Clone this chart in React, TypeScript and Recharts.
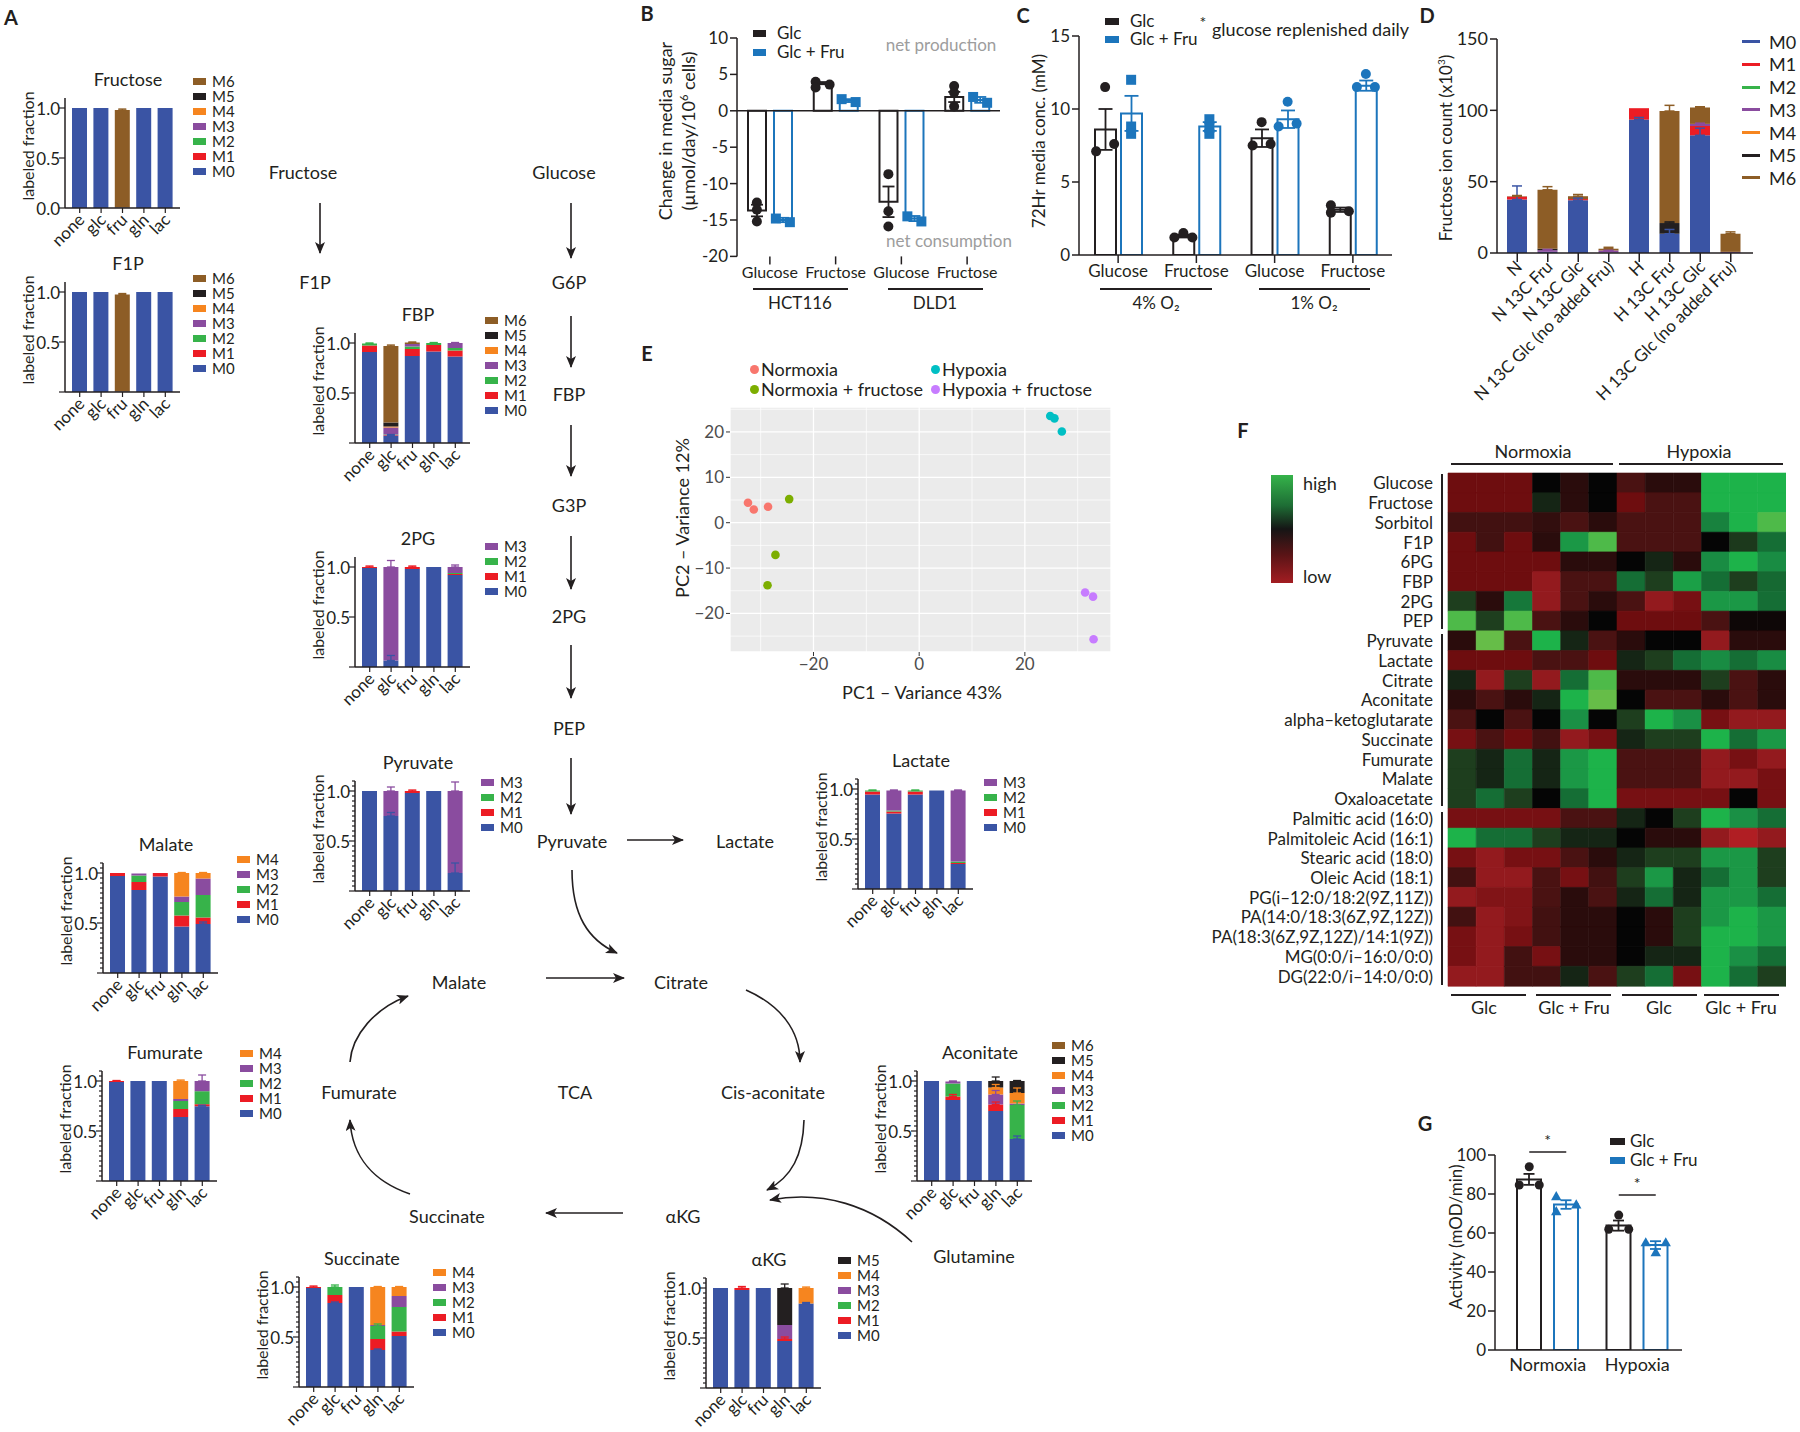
import React from 'react';
import {
  BarChart, Bar, XAxis, YAxis, ErrorBar, ComposedChart, Scatter, ScatterChart,
  CartesianGrid, ReferenceLine, Cell,
} from 'recharts';

const FONT = 'Lato, "Open Sans", "DejaVu Sans", sans-serif';
const INK = '#231f20';
const BLUE = '#1c75bc';
const GRAY_TXT = '#9d9d9d';

const ISO_COLORS: Record<string, string> = {
  M0: '#3a54a4', M1: '#ec1c24', M2: '#37b34a', M3: '#8a4c9f', M4: '#f6851f', M5: '#231f20', M6: '#8d5d26',
};
const ISO_KEYS = ['M0', 'M1', 'M2', 'M3', 'M4', 'M5', 'M6'];

// ---------------- Panel A data ----------------
const SAMPLES = ['none', 'glc', 'fru', 'gln', 'lac'];

const FRU_FRAC = { M0: [1, 1, 0.005, 1, 1], M6: [0, 0, 0.975, 0, 0] };
const FRU_ERR = { M6: [0, 0, 0.01, 0, 0] };
const F1P_FRAC = { M0: [1, 1, 0.005, 1, 1], M6: [0, 0, 0.97, 0, 0] };
const F1P_ERR = { M6: [0, 0, 0.01, 0, 0] };
const FBP_FRAC = {
  M0: [0.91, 0.075, 0.87, 0.915, 0.865],
  M1: [0.065, 0.005, 0.07, 0.065, 0.06],
  M2: [0.02, 0.005, 0.025, 0.02, 0.025],
  M3: [0, 0.07, 0.025, 0, 0.05],
  M4: [0, 0.01, 0, 0, 0],
  M5: [0, 0.04, 0, 0, 0],
  M6: [0, 0.765, 0.015, 0, 0],
};
const FBP_ERR = { M6: [0, 0.01, 0.005, 0, 0], M2: [0.005, 0, 0, 0.005, 0], M3: [0, 0, 0, 0, 0.005], M0: [0, 0.01, 0, 0, 0] };
const PG2_FRAC = { M0: [0.99, 0.065, 0.98, 1.0, 0.92], M1: [0.01, 0, 0.02, 0, 0.01], M2: [0, 0, 0, 0, 0.01], M3: [0, 0.935, 0, 0, 0.06] };
const PG2_ERR = { M3: [0, 0.065, 0, 0, 0.02], M0: [0, 0.05, 0, 0, 0], M1: [0.01, 0, 0.01, 0, 0] };
const PYR_FRAC = { M0: [1, 0.75, 0.98, 1, 0.18], M1: [0, 0, 0.02, 0, 0], M3: [0, 0.25, 0, 0, 0.82] };
const PYR_ERR = { M3: [0, 0.04, 0, 0, 0.09], M0: [0, 0.035, 0, 0, 0.1], M1: [0, 0, 0.01, 0, 0] };
const LAC_FRAC = {
  M0: [0.945, 0.755, 0.945, 0.985, 0.25], M1: [0.03, 0.02, 0.03, 0, 0.01],
  M2: [0.01, 0.01, 0.01, 0, 0.015], M3: [0, 0.2, 0, 0, 0.71],
};
const LAC_ERR = { M3: [0, 0.005, 0, 0, 0.005], M2: [0.005, 0, 0.005, 0, 0] };
const MAL_FRAC = {
  M0: [0.97, 0.83, 0.965, 0.465, 0.49], M1: [0.03, 0.08, 0.035, 0.11, 0.065],
  M2: [0, 0.065, 0, 0.135, 0.225], M3: [0, 0.02, 0, 0.055, 0.165], M4: [0, 0, 0, 0.235, 0.055],
};
const MAL_ERR = { M0: [0, 0, 0, 0, 0.02], M4: [0, 0, 0, 0.005, 0.005] };
const FUM_FRAC = {
  M0: [0.99, 1, 1, 0.64, 0.748], M1: [0.01, 0, 0, 0.08, 0.02], M2: [0, 0, 0, 0.08, 0.13],
  M3: [0, 0, 0, 0.02, 0.102], M4: [0, 0, 0, 0.18, 0],
};
const FUM_ERR = { M4: [0, 0, 0, 0.01, 0], M3: [0, 0, 0, 0, 0.06], M1: [0.005, 0, 0, 0, 0], M0: [0, 0, 0, 0, 0.01] };
const ACO_FRAC = {
  M0: [1, 0.81, 1, 0.70, 0.42], M1: [0, 0.035, 0, 0.065, 0], M2: [0, 0.13, 0, 0, 0.34],
  M3: [0, 0.02, 0, 0.10, 0.015], M4: [0, 0, 0, 0.07, 0.105], M5: [0, 0, 0, 0.065, 0.12], M6: [0, 0, 0, 0, 0],
};
const ACO_ERR = {
  M5: [0, 0, 0, 0.04, 0.005], M4: [0, 0, 0, 0.03, 0.05], M3: [0, 0.005, 0, 0.04, 0],
  M2: [0, 0, 0, 0, 0.04], M1: [0, 0.02, 0, 0.025, 0], M0: [0, 0, 0, 0, 0.03],
};
const SUC_FRAC = {
  M0: [0.99, 0.84, 1, 0.37, 0.51], M1: [0.01, 0.08, 0, 0.11, 0.045], M2: [0, 0.08, 0, 0.13, 0.245],
  M3: [0, 0, 0, 0.01, 0.11], M4: [0, 0, 0, 0.38, 0.09],
};
const SUC_ERR = { M2: [0, 0.02, 0, 0.02, 0], M0: [0, 0.01, 0, 0.01, 0], M4: [0, 0, 0, 0.005, 0.005], M1: [0.01, 0, 0, 0, 0] };
const AKG_FRAC = {
  M0: [1, 0.98, 1, 0.47, 0.845], M1: [0, 0.02, 0, 0.02, 0], M3: [0, 0, 0, 0.14, 0],
  M4: [0, 0, 0, 0, 0.155], M5: [0, 0, 0, 0.37, 0],
};
const AKG_ERR = { M5: [0, 0, 0, 0.04, 0], M1: [0, 0.015, 0, 0.02, 0], M4: [0, 0, 0, 0, 0.01], M0: [0, 0, 0, 0, 0.01] };

const LEG7 = ['M6', 'M5', 'M4', 'M3', 'M2', 'M1', 'M0'];
const LEG6 = ['M5', 'M4', 'M3', 'M2', 'M1', 'M0'];
const LEG5 = ['M4', 'M3', 'M2', 'M1', 'M0'];
const LEG4 = ['M3', 'M2', 'M1', 'M0'];

// ---------------- Panel B data ----------------
const B_CATS = ['HCT116 Glucose', 'HCT116 Fructose', 'DLD1 Glucose', 'DLD1 Fructose'];
const B_TICKS = ['Glucose', 'Fructose', 'Glucose', 'Fructose'];
const B_GLC_MEAN = [-13.7, 3.8, -12.5, 1.9];
const B_GLC_SEM = [0.8, 0.15, 2.1, 0.7];
const B_GLCFRU_MEAN = [-15.0, 1.4, -14.8, 1.5];
const B_GLCFRU_SEM = [0.3, 0.2, 0.35, 0.4];
const B_GLC_PTS = [[-12.6, -13.6, -15.2], [4.0, 3.2, 3.6], [-8.7, -13.8, -15.9], [3.4, 2.5, 0.6]];
const B_GLCFRU_PTS = [[-14.8, -15.3], [1.6, 1.2], [-14.5, -15.2], [1.9, 1.1]];
const B_GLC_JIT = [[0, 0, 0], [-1, -1, 1], [0, 0, 0], [0, 0, 0]];
const B_GLCFRU_JIT = [[-1, 1], [-1, 1], [-1, 1], [-1, 1]];

// ---------------- Panel C data ----------------
const C_CATS = ['4% Glucose', '4% Fructose', '1% Glucose', '1% Fructose'];
const C_TICKS = ['Glucose', 'Fructose', 'Glucose', 'Fructose'];
const C_GLC_MEAN = [8.6, 1.3, 8.0, 3.1];
const C_GLC_SEM = [1.4, 0.1, 0.6, 0.15];
const C_GLCFRU_MEAN = [9.7, 8.8, 9.3, 11.6];
const C_GLCFRU_SEM = [1.2, 0.3, 0.6, 0.35];
const C_GLC_PTS = [[7.1, 11.5, 7.6], [1.2, 1.5, 1.2], [7.5, 9.1, 7.6], [3.4, 2.9, 3.0]];
const C_GLCFRU_PTS = [[12.0, 8.8, 8.3], [9.3, 8.7, 8.3], [8.8, 10.5, 9.0], [11.5, 12.4, 11.5]];
const C_GLC_JIT = [[-1, 0, 1], [-1, 0, 1], [-1, 0, 1], [-1, -1, 1]];
const C_GLCFRU_JIT = [[0, 0, 0], [0, 0, 0], [-1, 0, 1], [-1, 0, 1]];

// ---------------- Panel D data ----------------
const D_CATS = ['N', 'N 13C Fru', 'N 13C Glc', 'N 13C Glc (no added Fru)', 'H', 'H 13C Fru', 'H 13C Glc', 'H 13C Glc (no added Fru)'];
const D_M0 = [37.5, 0.8, 37, 0.3, 93.5, 13.5, 82.5, 0];
const D_M1 = [2, 0, 0.8, 0, 8, 0, 6.5, 0];
const D_M2 = [0, 0, 0, 0, 0, 0, 0, 0];
const D_M3 = [0, 1.2, 0, 1.5, 0, 0, 1.5, 0.8];
const D_M4 = [0, 0, 0, 0, 0, 0, 0, 0];
const D_M5 = [0, 1, 0, 0, 0, 7.5, 0, 0];
const D_M6 = [0.3, 41.3, 2, 1.2, 0, 78.5, 11.5, 12.7];
const D_M0_ERR = [9.5, 0, 1.5, 0, 1.5, 3, 5, 0];
const D_M3_ERR = [0, 0.5, 0, 0.3, 0, 0, 0.5, 0];
const D_M5_ERR = [0, 0, 0, 0, 0, 0.8, 0, 0];
const D_M6_ERR = [0.5, 2.2, 1.2, 1.0, 0.5, 4, 0.5, 1.3];

// ---------------- Panel E data ----------------
const PCA_NORMOXIA = [{ x: -32.4, y: 4.4 }, { x: -31.3, y: 2.9 }, { x: -28.6, y: 3.5 }];
const PCA_NORMOXIA_FRU = [{ x: -24.6, y: 5.2 }, { x: -27.2, y: -7.1 }, { x: -28.7, y: -13.8 }];
const PCA_HYPOXIA = [{ x: 24.8, y: 23.5 }, { x: 25.6, y: 23.0 }, { x: 27.0, y: 20.1 }];
const PCA_HYPOXIA_FRU = [{ x: 31.4, y: -15.4 }, { x: 32.9, y: -16.3 }, { x: 33.0, y: -25.7 }];

// ---------------- Panel F data ----------------
const HEAT_GLYCO_LABELS = ['Glucose', 'Fructose', 'Sorbitol', 'F1P', '6PG', 'FBP', '2PG', 'PEP'];
const HEAT_GLYCO = [
  [-0.65, -0.65, -0.65, 0, -0.2, 0, -0.4, -0.2, -0.2, 0.85, 0.85, 0.85],
  [-0.65, -0.65, -0.65, 0.12, -0.2, 0, -0.65, -0.4, -0.4, 0.85, 0.85, 0.85],
  [-0.35, -0.35, -0.35, -0.25, -0.4, -0.2, -0.4, -0.4, -0.4, 0.65, 0.85, 0.95],
  [-0.65, -0.35, -0.65, -0.2, 0.75, 0.95, -0.4, -0.4, -0.4, 0, 0.25, 0.55],
  [-0.65, -0.65, -0.65, -0.65, -0.2, -0.2, 0, 0.12, -0.2, 0.7, 0.85, 0.7],
  [-0.65, -0.65, -0.65, -0.85, -0.4, -0.4, 0.55, 0.28, 0.78, 0.55, 0.28, 0.52],
  [0.28, -0.2, 0.6, -0.85, -0.4, -0.2, -0.4, -0.85, -0.7, 0.75, 0.75, 0.55],
  [0.95, 0.28, 0.95, -0.4, -0.2, 0, -0.65, -0.65, -0.65, -0.4, -0.05, -0.05],
];
const HEAT_TCA_LABELS = ['Pyruvate', 'Lactate', 'Citrate', 'Aconitate', 'alpha\u2013ketoglutarate', 'Succinate', 'Fumurate', 'Malate', 'Oxaloacetate'];
const HEAT_TCA = [
  [-0.2, 1.0, -0.4, 0.85, 0.12, -0.4, -0.2, 0, 0, -0.85, -0.2, -0.2],
  [-0.65, -0.65, -0.65, -0.4, -0.4, -0.65, 0.12, 0.28, 0.55, 0.7, 0.55, 0.7],
  [0.12, -0.85, 0.28, -0.85, 0.55, 0.95, -0.2, -0.2, -0.2, 0.28, -0.4, -0.2],
  [-0.2, -0.4, -0.2, 0.12, 0.85, 1.0, 0, -0.4, -0.4, -0.2, -0.4, -0.2],
  [-0.4, 0, -0.4, 0, 0.72, 0, 0.28, 0.85, 0.72, -0.7, -0.85, -0.85],
  [-0.7, -0.4, -0.65, -0.35, -0.85, -0.7, 0.12, 0.28, 0.28, 0.85, 0.55, 0.75],
  [0.28, 0.12, 0.55, 0.12, 0.75, 0.85, -0.4, -0.4, -0.4, -0.85, -0.7, -0.85],
  [0.28, 0.12, 0.55, 0.12, 0.75, 0.85, -0.4, -0.4, -0.4, -0.85, -0.85, -0.7],
  [0.28, 0.55, 0.28, 0, 0.55, 0.85, -0.7, -0.7, -0.7, -0.7, 0, -0.7],
];
const HEAT_LIPID_LABELS = [
  'Palmitic acid (16:0)', 'Palmitoleic Acid (16:1)', 'Stearic acid (18:0)', 'Oleic Acid (18:1)',
  'PG(i\u201312:0/18:2(9Z,11Z))', 'PA(14:0/18:3(6Z,9Z,12Z))', 'PA(18:3(6Z,9Z,12Z)/14:1(9Z))',
  'MG(0:0/i\u201316:0/0:0)', 'DG(22:0/i\u201314:0/0:0)',
];
const HEAT_LIPID = [
  [-0.7, -0.7, -0.7, -0.7, -0.4, -0.4, 0.12, 0, 0.28, 0.85, 0.72, 0.55],
  [0.85, 0.55, 0.55, 0.28, 0.12, 0.12, 0, -0.2, -0.2, -0.85, -1, -0.85],
  [-0.7, -0.85, -0.7, -0.7, -0.4, -0.2, 0.12, 0.28, 0.28, 0.75, 0.75, 0.28],
  [-0.35, -0.85, -0.85, -0.4, -0.7, -0.35, 0.28, 0.75, 0.12, 0.55, 0.75, 0.28],
  [-0.85, -0.75, -0.75, -0.4, -0.2, -0.4, 0.12, 0.55, 0.12, 0.75, 0.75, 0.55],
  [-0.35, -0.85, -0.75, -0.35, -0.2, -0.2, 0, -0.2, 0.28, 0.75, 0.85, 0.75],
  [-0.7, -0.85, -0.7, -0.35, -0.2, -0.2, 0, -0.2, 0.28, 0.85, 0.85, 0.75],
  [-0.7, -0.85, -0.35, -0.7, -0.2, -0.2, 0, 0.12, 0.12, 0.85, 0.72, 0.55],
  [-0.85, -0.85, -0.35, -0.35, 0.12, -0.4, 0.28, 0.55, -0.7, 0.85, 0.55, 0.28],
];

// ---------------- Panel G data ----------------
const G_CATS = ['Normoxia', 'Hypoxia'];
const G_GLC_MEAN = [87.5, 63.8];
const G_GLC_SEM = [2.8, 2.6];
const G_GLCFRU_MEAN = [74.6, 53.8];
const G_GLCFRU_SEM = [2.2, 2.0];
const G_GLC_PTS = [[84.6, 94.0, 84.6], [61.9, 69.2, 61.9]];
const G_GLCFRU_PTS = [[78.6, 70.9, 74.4], [55.0, 49.9, 55.0]];
const G_GLC_JIT = [[-1, 0, 1], [-1, 0, 1]];
const G_GLCFRU_JIT = [[-1, -1, 1], [-1, 0, 1]];
const G_SIG_Y = [101.5, 79.5];

// ---------------- helpers ----------------
function Txt({ x, y, children, size = 17, anchor = 'middle', weight = 400, color = INK, rotate = 0 }: any) {
  const tx = anchor === 'middle' ? '-50%' : anchor === 'end' ? '-100%' : '0%';
  return (
    <div
      style={{
        position: 'absolute', left: x, top: y,
        transform: `translate(${tx}, -50%)` + (rotate ? ` rotate(${rotate}deg)` : ''),
        whiteSpace: 'nowrap', fontSize: size, fontWeight: weight, color, lineHeight: 1, fontFamily: FONT,
      }}
    >
      {children}
    </div>
  );
}

function HLine({ x1, x2, y, w = 1.5 }: any) {
  return <div style={{ position: 'absolute', left: x1, top: y - w / 2, width: x2 - x1, height: w, background: INK }} />;
}
function VLine({ x, y1, y2, w = 1.5 }: any) {
  return <div style={{ position: 'absolute', left: x - w / 2, top: y1, width: w, height: y2 - y1, background: INK }} />;
}
function Swatch({ x, y, w = 14, h = 7, color }: any) {
  return <div style={{ position: 'absolute', left: x, top: y - h / 2, width: w, height: h, background: color }} />;
}

const axisStyle = { stroke: INK, strokeWidth: 1.5 };

function FracYTick(props: any) {
  const { x, y, payload, mode } = props;
  const v = payload.value;
  const near = (a: number) => Math.abs(v - a) < 1e-6;
  const major = near(0.5) || near(1) || near(0);
  const showLabel = near(0.5) || near(1) || (mode === 'zero' && near(0));
  const len = major ? 6 : 3;
  return (
    <g>
      <line x1={x - len} x2={x} y1={y} y2={y} stroke={INK} strokeWidth={1.2} />
      {showLabel && (
        <text x={x - 5} y={y} textAnchor="end" dominantBaseline="central" fontSize={17} fill={INK} fontFamily={FONT}>
          {v.toFixed(1)}
        </text>
      )}
    </g>
  );
}

function RotTick(props: any) {
  const { x, y, payload, dx = 6, dy = 8, size = 17 } = props;
  const px = x + dx, py = y + dy;
  return (
    <text x={px} y={py} textAnchor="end" transform={`rotate(-45 ${px} ${py})`} fontSize={size} fill={INK} fontFamily={FONT}>
      {payload.value}
    </text>
  );
}

function markerShape(type: string, color: string, r: number) {
  return (p: any) => {
    const cx = p.cx, cy = p.cy;
    if (cx == null || cy == null) return <g />;
    if (type === 'square') return <rect x={cx - r} y={cy - r} width={2 * r} height={2 * r} fill={color} />;
    if (type === 'triangle')
      return <path d={`M${cx},${cy - r * 1.25} L${cx + r * 1.15},${cy + r * 0.8} L${cx - r * 1.15},${cy + r * 0.8} Z`} fill={color} />;
    return <circle cx={cx} cy={cy} r={r} fill={color} />;
  };
}

// ---------------- small stacked isotopologue chart ----------------
const SW = 115, SH = 110, SYW = 40, SXH = 50, SMT = 10, SMR = 10;

function SmallChart({ c }: any) {
  const keys = ISO_KEYS.filter((k) => c.frac[k]);
  const data = SAMPLES.map((s, i) => {
    const r: any = { name: s };
    keys.forEach((k) => {
      r[k] = c.frac[k][i];
      const e = c.err[k] ? c.err[k][i] : 0;
      if (e) r[k + 'e'] = [0, e];
    });
    return r;
  });
  const ticks = c.ticks === 'minor' ? Array.from({ length: 23 }, (_, i) => +(i * 0.05).toFixed(2)) : [0, 0.5, 1];
  return (
    <>
      <div style={{ position: 'absolute', left: c.ax - SYW, top: c.base - SH - SMT }}>
        <BarChart width={SYW + SW + SMR} height={SMT + SH + SXH} data={data}
          margin={{ top: SMT, right: SMR, bottom: 0, left: 0 }} barSize={15}>
          <XAxis dataKey="name" padding={{ left: 4, right: 4 }} axisLine={axisStyle}
            tickLine={{ stroke: INK, strokeWidth: 1.2 }} tickSize={5} tickMargin={0} interval={0} height={SXH}
            tick={<RotTick dx={6} dy={8} />} />
          <YAxis domain={[0, 1.1]} ticks={ticks} interval={0} width={SYW} tickSize={0} tickMargin={0}
            tickLine={false} axisLine={axisStyle} allowDataOverflow tick={<FracYTick mode={c.ticks} />} />
          {keys.map((k) => (
            <Bar key={k} dataKey={k} stackId="s" fill={ISO_COLORS[k]} isAnimationActive={false}>
              {c.err[k] && <ErrorBar dataKey={k + 'e'} width={4} stroke={ISO_COLORS[k]} strokeWidth={1.3} />}
            </Bar>
          ))}
        </BarChart>
      </div>
      <Txt x={c.ax + 63} y={c.base - 129} size={18}>{c.title}</Txt>
      <Txt x={c.ax - 37} y={c.base - 62} size={16} rotate={-90}>labeled fraction</Txt>
      {c.legend.map((k: string, i: number) => (
        <React.Fragment key={k}>
          <Swatch x={c.lx} y={c.ly + i * 15} w={13} h={7} color={ISO_COLORS[k]} />
          <Txt x={c.lx + 19} y={c.ly + i * 15} anchor="start" size={15}>{k}</Txt>
        </React.Fragment>
      ))}
    </>
  );
}

const SMALL = [
  { title: 'Fructose', frac: FRU_FRAC, err: FRU_ERR, ax: 65, base: 208, legend: LEG7, lx: 193, ly: 81, ticks: 'zero' },
  { title: 'F1P', frac: F1P_FRAC, err: F1P_ERR, ax: 65, base: 392, legend: LEG7, lx: 193, ly: 278, ticks: 'simple' },
  { title: 'FBP', frac: FBP_FRAC, err: FBP_ERR, ax: 355, base: 443, legend: LEG7, lx: 485, ly: 320, ticks: 'simple' },
  { title: '2PG', frac: PG2_FRAC, err: PG2_ERR, ax: 355, base: 667, legend: LEG4, lx: 485, ly: 546, ticks: 'simple' },
  { title: 'Pyruvate', frac: PYR_FRAC, err: PYR_ERR, ax: 355, base: 891, legend: LEG4, lx: 481, ly: 782, ticks: 'minor' },
  { title: 'Lactate', frac: LAC_FRAC, err: LAC_ERR, ax: 858, base: 889, legend: LEG4, lx: 984, ly: 782, ticks: 'minor' },
  { title: 'Malate', frac: MAL_FRAC, err: MAL_ERR, ax: 103, base: 973, legend: LEG5, lx: 237, ly: 859, ticks: 'minor' },
  { title: 'Fumurate', frac: FUM_FRAC, err: FUM_ERR, ax: 102, base: 1181, legend: LEG5, lx: 240, ly: 1053, ticks: 'minor' },
  { title: 'Aconitate', frac: ACO_FRAC, err: ACO_ERR, ax: 917, base: 1181, legend: LEG7, lx: 1052, ly: 1045, ticks: 'minor' },
  { title: 'Succinate', frac: SUC_FRAC, err: SUC_ERR, ax: 299, base: 1387, legend: LEG5, lx: 433, ly: 1272, ticks: 'minor' },
  { title: '\u03b1KG', frac: AKG_FRAC, err: AKG_ERR, ax: 706, base: 1388, legend: LEG6, lx: 838, ly: 1260, ticks: 'minor' },
];

// ---------------- pathway diagram ----------------
function Pathway() {
  const straight = [
    [320, 203, 320, 253], [571, 203, 571, 258], [571, 316, 571, 367], [571, 425, 571, 476],
    [571, 536, 571, 589], [571, 645, 571, 698], [571, 758, 571, 814], [627, 840, 683, 840],
    [546, 978, 624, 978], [623, 1213, 546, 1213],
  ];
  const curves = [
    'M 572 870 C 572 915, 588 940, 617 953',
    'M 746 990 C 780 1005, 800 1030, 800 1062',
    'M 804 1120 C 803 1155, 792 1177, 767 1190',
    'M 912 1242 C 872 1205, 822 1190, 770 1200',
    'M 410 1194 C 375 1182, 352 1158, 350 1120',
    'M 350 1062 C 352 1035, 375 1008, 408 996',
  ];
  const labels: [string, number, number][] = [
    ['Fructose', 303, 172], ['F1P', 315, 282], ['Glucose', 564, 172], ['G6P', 569, 282], ['FBP', 569, 394],
    ['G3P', 569, 505], ['2PG', 569, 616], ['PEP', 569, 728], ['Pyruvate', 572, 841], ['Lactate', 745, 841],
    ['Malate', 459, 982], ['Citrate', 681, 982], ['Cis-aconitate', 773, 1092], ['TCA', 575, 1092],
    ['Fumurate', 359, 1092], ['\u03b1KG', 683, 1216], ['Succinate', 447, 1216], ['Glutamine', 974, 1256],
  ];
  return (
    <>
      <svg width={1800} height={1432} style={{ position: 'absolute', left: 0, top: 0 }}>
        <defs>
          <marker id="ah" viewBox="0 0 12 10" refX="11" refY="5" markerWidth="12" markerHeight="10"
            markerUnits="userSpaceOnUse" orient="auto">
            <path d="M0,0 L12,5 L0,10 L3,5 Z" fill={INK} />
          </marker>
        </defs>
        {straight.map((s, i) => (
          <line key={i} x1={s[0]} y1={s[1]} x2={s[2]} y2={s[3]} stroke={INK} strokeWidth={1.6} markerEnd="url(#ah)" />
        ))}
        {curves.map((d, i) => (
          <path key={i} d={d} fill="none" stroke={INK} strokeWidth={1.6} markerEnd="url(#ah)" />
        ))}
      </svg>
      {labels.map(([t, x, y]) => <Txt key={t + x} x={x} y={y} size={18}>{t}</Txt>)}
    </>
  );
}

// ---------------- dot + bar charts (B, C, G) ----------------
function DotBarChart(p: any) {
  const { cats, tickLabels, series, L, T, W, H, yW, xH, domain, yTicks, barSize, barGap, cap, r, padL = 0,
    zeroLine = false, xAxisLine = true, xTickLine = true, tickSize = 8, jitPx = 7, extra = null, tickFont = 17, mT = 10 } = p;
  const n = cats.length;
  const band = (W - padL) / n;
  const rows = cats.map((c: string, i: number) => {
    const o: any = { name: c };
    series.forEach((s: any) => { o[s.key] = s.mean[i]; o[s.key + 'E'] = s.sem[i]; });
    return o;
  });
  const mR = 10;
  const offset = (barSize + barGap) / 2 / band;
  const scatters: any[] = [];
  series.forEach((s: any) => {
    const groups: Record<string, any[]> = {};
    s.pts.forEach((arr: number[], i: number) =>
      arr.forEach((v: number, j: number) => {
        const m = s.marker[i];
        (groups[m] = groups[m] || []).push({ x: i + s.side * offset + (s.jit[i][j] * jitPx) / band, y: v });
      }));
    Object.keys(groups).forEach((m) =>
      scatters.push(
        <Scatter key={s.key + m} xAxisId="num" data={groups[m]} dataKey="y" isAnimationActive={false}
          shape={markerShape(m, s.color, r)} />));
  });
  return (
    <div style={{ position: 'absolute', left: L - yW, top: T - mT }}>
      <ComposedChart width={yW + W + mR} height={mT + H + xH} data={rows}
        margin={{ top: mT, right: mR, bottom: 0, left: 0 }} barSize={barSize} barGap={barGap}>
        <XAxis xAxisId="cat" dataKey="name" interval={0} padding={{ left: padL, right: 0 }}
          axisLine={xAxisLine ? axisStyle : false} tickLine={xTickLine ? { stroke: INK, strokeWidth: 1.5 } : false}
          tickSize={tickSize} height={xH}
          tick={{ fill: INK, fontSize: tickFont, fontFamily: FONT }}
          tickFormatter={(v: any, i: number) => tickLabels[i]} />
        <XAxis xAxisId="num" type="number" dataKey="x" domain={[-0.5, n - 0.5]} padding={{ left: padL, right: 0 }}
          hide allowDataOverflow />
        <YAxis domain={domain} ticks={yTicks} interval={0} width={yW} tickSize={7} allowDataOverflow
          axisLine={axisStyle} tickLine={{ stroke: INK, strokeWidth: 1.5 }}
          tick={{ fill: INK, fontSize: 17, fontFamily: FONT }} />
        {zeroLine && <ReferenceLine xAxisId="cat" y={0} stroke={INK} strokeWidth={1.5} />}
        {series.map((s: any) => (
          <Bar key={s.key} xAxisId="cat" dataKey={s.key} fill="#fff" stroke={s.color} strokeWidth={2}
            isAnimationActive={false}>
            <ErrorBar dataKey={s.key + 'E'} width={cap} stroke={s.color} strokeWidth={1.8} />
          </Bar>
        ))}
        {scatters}
        {extra}
      </ComposedChart>
    </div>
  );
}

function PanelB() {
  const series = [
    { key: 'glc', mean: B_GLC_MEAN, sem: B_GLC_SEM, pts: B_GLC_PTS, jit: B_GLC_JIT, color: INK, side: -1, marker: ['circle', 'circle', 'circle', 'circle'] },
    { key: 'fru', mean: B_GLCFRU_MEAN, sem: B_GLCFRU_SEM, pts: B_GLCFRU_PTS, jit: B_GLCFRU_JIT, color: BLUE, side: 1, marker: ['square', 'square', 'square', 'square'] },
  ];
  return (
    <>
      <DotBarChart cats={B_CATS} tickLabels={B_TICKS} series={series} L={737} T={38.3} W={263} H={218.4} yW={45} xH={32}
        domain={[-20, 10]} yTicks={[-20, -15, -10, -5, 0, 5, 10]} barSize={18} barGap={8} cap={6} r={5}
        zeroLine xAxisLine={false} tickSize={8} jitPx={7} tickFont={16} />
      <Txt x={647} y={13} size={20} weight={700}>B</Txt>
      <Swatch x={753} y={33} w={13} h={7} color={INK} />
      <Txt x={777} y={32} anchor="start">Glc</Txt>
      <Swatch x={753} y={52} w={13} h={7} color={BLUE} />
      <Txt x={777} y={51} anchor="start">Glc + Fru</Txt>
      <Txt x={941} y={44} color={GRAY_TXT}>net production</Txt>
      <Txt x={949} y={240} color={GRAY_TXT}>net consumption</Txt>
      <Txt x={665} y={131} size={18} rotate={-90}>Change in media sugar</Txt>
      <Txt x={687} y={131} size={18} rotate={-90}>({'\u00b5'}mol/day/10<sup style={{ fontSize: 11 }}>6</sup> cells)</Txt>
      <HLine x1={753} x2={848} y={289} />
      <HLine x1={888} x2={983} y={289} />
      <Txt x={800} y={302}>HCT116</Txt>
      <Txt x={935} y={302}>DLD1</Txt>
    </>
  );
}

function PanelC() {
  const series = [
    { key: 'glc', mean: C_GLC_MEAN, sem: C_GLC_SEM, pts: C_GLC_PTS, jit: C_GLC_JIT, color: INK, side: -1, marker: ['circle', 'circle', 'circle', 'circle'] },
    { key: 'fru', mean: C_GLCFRU_MEAN, sem: C_GLCFRU_SEM, pts: C_GLCFRU_PTS, jit: C_GLCFRU_JIT, color: BLUE, side: 1, marker: ['square', 'square', 'circle', 'circle'] },
  ];
  return (
    <>
      <DotBarChart cats={C_CATS} tickLabels={C_TICKS} series={series} L={1079} T={36} W={313} H={219} yW={40} xH={32}
        domain={[0, 15]} yTicks={[0, 5, 10, 15]} barSize={21} barGap={5} cap={7} r={5} tickSize={8} jitPx={9} />
      <Txt x={1023} y={15} size={20} weight={700}>C</Txt>
      <Swatch x={1105} y={21} w={14} h={7} color={INK} />
      <Txt x={1130} y={20} anchor="start">Glc</Txt>
      <Swatch x={1105} y={39} w={14} h={7} color={BLUE} />
      <Txt x={1130} y={38} anchor="start">Glc + Fru</Txt>
      <Txt x={1203} y={22} size={16}>*</Txt>
      <Txt x={1212} y={29} anchor="start" size={18}>glucose replenished daily</Txt>
      <Txt x={1038} y={141} size={17} rotate={-90}>72Hr media conc. (mM)</Txt>
      <HLine x1={1100} x2={1212} y={289} />
      <HLine x1={1259} x2={1370} y={289} />
      <Txt x={1156} y={302}>4% O{'\u2082'}</Txt>
      <Txt x={1314} y={302}>1% O{'\u2082'}</Txt>
    </>
  );
}

function PanelG() {
  const series = [
    { key: 'glc', mean: G_GLC_MEAN, sem: G_GLC_SEM, pts: G_GLC_PTS, jit: G_GLC_JIT, color: INK, side: -1, marker: ['circle', 'circle'] },
    { key: 'fru', mean: G_GLCFRU_MEAN, sem: G_GLCFRU_SEM, pts: G_GLCFRU_PTS, jit: G_GLCFRU_JIT, color: BLUE, side: 1, marker: ['triangle', 'triangle'] },
  ];
  const half = (24 + 13) / 2 / ((187 - 8) / 2);
  const extra = G_SIG_Y.map((y, i) => (
    <ReferenceLine key={'sig' + i} xAxisId="num" ifOverflow="visible" stroke={INK} strokeWidth={1.5}
      segment={[{ x: i - half, y }, { x: i + half, y }]}
      label={{ value: '*', position: 'top', fill: INK, fontSize: 16, offset: 6 }} />
  ));
  return (
    <>
      <DotBarChart cats={G_CATS} tickLabels={G_CATS} series={series} L={1495} T={1155} W={187} H={195} yW={45} xH={32}
        domain={[0, 100]} yTicks={[0, 20, 40, 60, 80, 100]} barSize={24} barGap={13} cap={5.5} r={4.5}
        padL={8} xTickLine={false} tickSize={6} jitPx={10} tickFont={18} extra={extra} mT={35} />
      <Txt x={1425} y={1123} size={20} weight={700}>G</Txt>
      <Swatch x={1610} y={1141} w={15} h={7} color={INK} />
      <Txt x={1630} y={1140} anchor="start">Glc</Txt>
      <Swatch x={1610} y={1160} w={15} h={7} color={BLUE} />
      <Txt x={1630} y={1159} anchor="start">Glc + Fru</Txt>
      <Txt x={1455} y={1237} size={17} rotate={-90}>Activity (mOD/min)</Txt>
    </>
  );
}

// ---------------- Panel D ----------------
function PanelD() {
  const stacks: Record<string, number[]> = { M0: D_M0, M1: D_M1, M2: D_M2, M3: D_M3, M4: D_M4, M5: D_M5, M6: D_M6 };
  const errs: Record<string, number[]> = { M0: D_M0_ERR, M3: D_M3_ERR, M5: D_M5_ERR, M6: D_M6_ERR };
  const rows = D_CATS.map((c, i) => {
    const o: any = { name: c };
    ISO_KEYS.forEach((k) => {
      o[k] = stacks[k][i];
      if (errs[k] && errs[k][i]) o[k + 'e'] = [0, errs[k][i]];
    });
    return o;
  });
  const L = 1497, T = 39.3, W = 256, H = 214, yW = 50, xH = 170, mT = 10, mR = 10;
  return (
    <>
      <div style={{ position: 'absolute', left: L - yW, top: T - mT }}>
        <BarChart width={yW + W + mR} height={mT + H + xH} data={rows} margin={{ top: mT, right: mR, bottom: 0, left: 0 }} barSize={20}>
          <XAxis dataKey="name" interval={0} padding={{ left: 5, right: 7 }} tickSize={9} tickMargin={0} height={xH}
            axisLine={axisStyle} tickLine={{ stroke: INK, strokeWidth: 1.5 }} tick={<RotTick dx={6} dy={6} size={17} />} />
          <YAxis domain={[0, 150]} ticks={[0, 50, 100, 150]} interval={0} width={yW} tickSize={7} allowDataOverflow
            axisLine={axisStyle} tickLine={{ stroke: INK, strokeWidth: 1.5 }} tick={{ fill: INK, fontSize: 18, fontFamily: FONT }} />
          {ISO_KEYS.map((k) => (
            <Bar key={k} dataKey={k} stackId="d" fill={ISO_COLORS[k]} isAnimationActive={false}>
              {errs[k] && <ErrorBar dataKey={k + 'e'} width={5} stroke={ISO_COLORS[k]} strokeWidth={1.5} />}
            </Bar>
          ))}
        </BarChart>
      </div>
      <Txt x={1427} y={15} size={20} weight={700}>D</Txt>
      <Txt x={1445} y={148} size={17} rotate={-90}>Fructose ion count (x10<sup style={{ fontSize: 10 }}>3</sup>)</Txt>
      {ISO_KEYS.map((k, i) => (
        <React.Fragment key={k}>
          <div style={{ position: 'absolute', left: 1742, top: 41.7 + i * 22.7 - 1.5, width: 18, height: 3, background: ISO_COLORS[k] }} />
          <Txt x={1769} y={41.7 + i * 22.7} anchor="start" size={18}>{k}</Txt>
        </React.Fragment>
      ))}
    </>
  );
}

// ---------------- Panel E ----------------
function PanelE() {
  const L = 730, T = 407, W = 381, H = 245, yW = 40, xH = 30, mT = 5, mR = 5;
  const dot = (color: string) => (p: any) => <circle cx={p.cx} cy={p.cy} r={4.3} fill={color} />;
  const fmt = (v: number) => (v < 0 ? `\u2212${-v}` : `${v}`);
  return (
    <>
      <div style={{ position: 'absolute', left: L - yW, top: T - mT }}>
        <ScatterChart width={yW + W + mR} height={mT + H + xH} margin={{ top: mT, right: mR, bottom: 0, left: 0 }}>
          <CartesianGrid fill="#ebebeb" stroke="#ffffff" strokeWidth={1.3} />
          {[-30, -10, 10, 30].map((v) => <ReferenceLine key={'x' + v} x={v} stroke="#fff" strokeWidth={0.7} />)}
          {[-25, -15, -5, 5, 15, 25].map((v) => <ReferenceLine key={'y' + v} y={v} stroke="#fff" strokeWidth={0.7} />)}
          <XAxis type="number" dataKey="x" domain={[-35.8, 36.3]} ticks={[-20, 0, 20]} allowDataOverflow height={xH}
            axisLine={false} tickSize={4} tickLine={{ stroke: '#333' }} tickFormatter={fmt}
            tick={{ fill: '#4d4d4d', fontSize: 17, fontFamily: FONT }} />
          <YAxis type="number" dataKey="y" domain={[-28.5, 25.5]} ticks={[-20, -10, 0, 10, 20]} allowDataOverflow width={yW}
            axisLine={false} tickSize={4} tickLine={{ stroke: '#333' }} tickFormatter={fmt}
            tick={{ fill: '#4d4d4d', fontSize: 17, fontFamily: FONT }} />
          <Scatter data={PCA_NORMOXIA} isAnimationActive={false} shape={dot('#f8766d')} />
          <Scatter data={PCA_NORMOXIA_FRU} isAnimationActive={false} shape={dot('#7cae00')} />
          <Scatter data={PCA_HYPOXIA} isAnimationActive={false} shape={dot('#00bfc4')} />
          <Scatter data={PCA_HYPOXIA_FRU} isAnimationActive={false} shape={dot('#c77cff')} />
        </ScatterChart>
      </div>
      <Txt x={647} y={353} size={20} weight={700}>E</Txt>
      {[
        ['Normoxia', '#f8766d', 754, 369], ['Normoxia + fructose', '#7cae00', 754, 389],
        ['Hypoxia', '#00bfc4', 935, 369], ['Hypoxia + fructose', '#c77cff', 935, 389],
      ].map(([t, c, x, y]: any) => (
        <React.Fragment key={t}>
          <div style={{ position: 'absolute', left: x - 4.5, top: y - 4.5, width: 9, height: 9, borderRadius: 5, background: c }} />
          <Txt x={x + 7} y={y} anchor="start" size={18}>{t}</Txt>
        </React.Fragment>
      ))}
      <Txt x={922} y={692} size={18}>PC1 {'\u2013'} Variance 43%</Txt>
      <Txt x={682} y={518} size={18} rotate={-90}>PC2 {'\u2013'} Variance 12%</Txt>
    </>
  );
}

// ---------------- Panel F ----------------
const HEAT_STOPS: [number, string][] = [
  [-1, '#b01e23'], [-0.85, '#931a1e'], [-0.65, '#6e0d0f'], [-0.4, '#4a1212'], [-0.2, '#2a0c0c'],
  [0, '#050505'], [0.12, '#152515'], [0.28, '#1e3e1e'], [0.55, '#156e35'], [0.72, '#1a9045'],
  [0.85, '#1db34a'], [1, '#66bd48'],
];
function hex(h: string) {
  return [parseInt(h.slice(1, 3), 16), parseInt(h.slice(3, 5), 16), parseInt(h.slice(5, 7), 16)];
}
function heatColor(v: number) {
  const x = Math.max(-1, Math.min(1, v));
  for (let i = 0; i < HEAT_STOPS.length - 1; i++) {
    const [a, ca] = HEAT_STOPS[i];
    const [b, cb] = HEAT_STOPS[i + 1];
    if (x >= a && x <= b) {
      const t = (x - a) / (b - a);
      const A = hex(ca), B = hex(cb);
      const c = A.map((av, k) => Math.round(av + (B[k] - av) * t));
      return `rgb(${c[0]},${c[1]},${c[2]})`;
    }
  }
  return '#000';
}

function PanelF() {
  const labels = [...HEAT_GLYCO_LABELS, ...HEAT_TCA_LABELS, ...HEAT_LIPID_LABELS];
  const values = [...HEAT_GLYCO, ...HEAT_TCA, ...HEAT_LIPID];
  const rows = labels.map((name) => {
    const o: any = { name };
    for (let c = 0; c < 12; c++) o['c' + c] = 1;
    return o;
  });
  const L = 1448, T = 473, W = 338, H = 513, yW = 300, mB = 12, mT = 6;
  const HeatTick = (p: any) => (
    <text x={p.x - 15} y={p.y} textAnchor="end" dominantBaseline="central" fontSize={17} fill={INK} fontFamily={FONT}>
      {p.payload.value}
    </text>
  );
  return (
    <>
      <div style={{ position: 'absolute', left: L - yW, top: T - mT }}>
        <BarChart width={yW + W} height={H + mB + mT} data={rows} layout="vertical"
          margin={{ top: mT, right: 0, bottom: mB, left: 0 }} barCategoryGap={0}>
          <XAxis type="number" domain={[0, 12]} hide />
          <YAxis type="category" dataKey="name" width={yW} interval={0} axisLine={false} tickLine={false}
            tickSize={0} tickMargin={0} tick={<HeatTick />} />
          {Array.from({ length: 12 }, (_, c) => (
            <Bar key={c} dataKey={'c' + c} stackId="h" isAnimationActive={false}>
              {values.map((row, r) => (
                <Cell key={r} fill={heatColor(row[c])} stroke={heatColor(row[c])} strokeWidth={0.6} />
              ))}
            </Bar>
          ))}
        </BarChart>
      </div>
      <Txt x={1243} y={430} size={20} weight={700}>F</Txt>
      <div style={{
        position: 'absolute', left: 1271, top: 475, width: 22, height: 108,
        background: 'linear-gradient(to bottom, #35b34a 0%, #1e6e35 28%, #151515 50%, #5a1416 74%, #a31d22 100%)',
      }} />
      <Txt x={1303} y={483} anchor="start" size={18}>high</Txt>
      <Txt x={1303} y={576} anchor="start" size={18}>low</Txt>
      <Txt x={1533} y={451} size={18}>Normoxia</Txt>
      <Txt x={1699} y={451} size={18}>Hypoxia</Txt>
      <HLine x1={1451} x2={1613} y={464} />
      <HLine x1={1619} x2={1783} y={464} />
      <VLine x={1442} y1={474} y2={629} />
      <VLine x={1442} y1={634} y2={806} />
      <VLine x={1442} y1={812} y2={985} />
      <HLine x1={1451} x2={1526} y={995} />
      <HLine x1={1536} x2={1611} y={995} />
      <HLine x1={1622} x2={1697} y={995} />
      <HLine x1={1704} x2={1779} y={995} />
      <Txt x={1484} y={1007} size={18}>Glc</Txt>
      <Txt x={1574} y={1007} size={18}>Glc + Fru</Txt>
      <Txt x={1659} y={1007} size={18}>Glc</Txt>
      <Txt x={1741} y={1007} size={18}>Glc + Fru</Txt>
    </>
  );
}

export default function App() {
  return (
    <div style={{ position: 'absolute', left: 0, top: 0, width: 1800, height: 1432, background: '#fff', fontFamily: FONT, color: INK, overflow: 'hidden' }}>
      <Pathway />
      <Txt x={11} y={17} size={20} weight={700}>A</Txt>
      {SMALL.map((c) => <SmallChart key={c.title} c={c} />)}
      <PanelB />
      <PanelC />
      <PanelD />
      <PanelE />
      <PanelF />
      <PanelG />
    </div>
  );
}
